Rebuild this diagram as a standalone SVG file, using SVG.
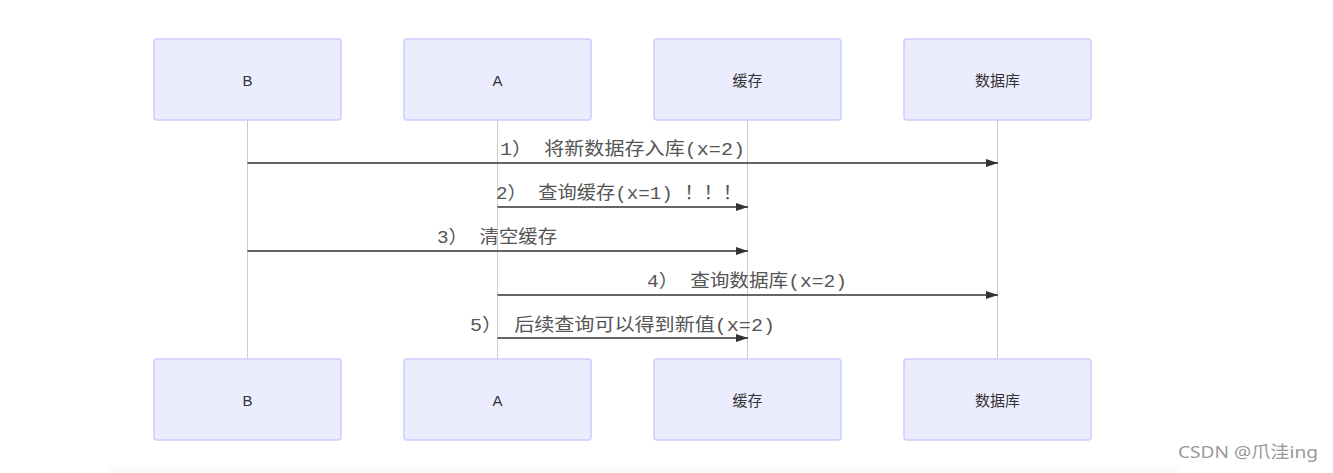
<svg xmlns="http://www.w3.org/2000/svg" width="1333" height="473" viewBox="0 0 1333 473">
<style>
.box{fill:#ECECFF;stroke:#CCCCFF;stroke-width:1.5}
.lt{font-family:"Liberation Sans","Noto Sans CJK SC",sans-serif;font-size:15px;fill:#333;text-anchor:middle;dominant-baseline:central}
.life{stroke:#ccc;stroke-width:1}
.msg{stroke:#333;stroke-width:1.5;fill:none}
.ml{font-family:"Liberation Mono","Noto Sans CJK SC",monospace;font-size:18px;fill:#555}
.wm{font-family:"Noto Sans","Noto Sans CJK SC",sans-serif;font-size:17px;fill:#999}
</style>
<defs>
<marker id="ah" viewBox="0 0 12 8" refX="12" refY="4" markerWidth="12" markerHeight="8" markerUnits="userSpaceOnUse" orient="auto">
<path d="M0,0 L12,4 L0,8 z" fill="#333"/>
</marker>
</defs>
<rect width="1333" height="473" fill="#fff"/>
<rect x="110" y="466" width="1070" height="7" fill="#fbfbfb"/>
<g id="lifelines">
<line class="life" x1="247.5" y1="120" x2="247.5" y2="359"/>
<line class="life" x1="497.5" y1="120" x2="497.5" y2="359"/>
<line class="life" x1="747.5" y1="120" x2="747.5" y2="359"/>
<line class="life" x1="997.5" y1="120" x2="997.5" y2="359"/>
</g>
<g id="B-top"><rect class="box" x="154" y="39" width="187" height="81" rx="3"/><text class="lt" x="247.5" y="80">B</text></g>
<g id="A-top"><rect class="box" x="404" y="39" width="187" height="81" rx="3"/><text class="lt" x="497.5" y="80">A</text></g>
<g id="cache-top"><rect class="box" x="654" y="39" width="187" height="81" rx="3"/><text class="lt" x="747.5" y="80">缓存</text></g>
<g id="db-top"><rect class="box" x="904" y="39" width="187" height="81" rx="3"/><text class="lt" x="997.5" y="80">数据库</text></g>
<g id="B-bottom"><rect class="box" x="154" y="359" width="187" height="81" rx="3"/><text class="lt" x="247.5" y="400">B</text></g>
<g id="A-bottom"><rect class="box" x="404" y="359" width="187" height="81" rx="3"/><text class="lt" x="497.5" y="400">A</text></g>
<g id="cache-bottom"><rect class="box" x="654" y="359" width="187" height="81" rx="3"/><text class="lt" x="747.5" y="400">缓存</text></g>
<g id="db-bottom"><rect class="box" x="904" y="359" width="187" height="81" rx="3"/><text class="lt" x="997.5" y="400">数据库</text></g>
<g id="connectors">
<line class="msg" x1="247.5" y1="163" x2="998" y2="163" marker-end="url(#ah)"/>
<text class="ml" x="500" y="155" textLength="245" lengthAdjust="spacingAndGlyphs">1） 将新数据存入库(x=2)</text>
<line class="msg" x1="497.5" y1="207" x2="748" y2="207" marker-end="url(#ah)"/>
<text class="ml" x="496" y="199" textLength="246" lengthAdjust="spacingAndGlyphs">2） 查询缓存(x=1) ！！！</text>
<line class="msg" x1="247.5" y1="251" x2="748" y2="251" marker-end="url(#ah)"/>
<text class="ml" x="437" y="243" textLength="120" lengthAdjust="spacingAndGlyphs">3） 清空缓存</text>
<line class="msg" x1="497.5" y1="295" x2="998" y2="295" marker-end="url(#ah)"/>
<text class="ml" x="647" y="287" textLength="200" lengthAdjust="spacingAndGlyphs">4） 查询数据库(x=2)</text>
<line class="msg" x1="497.5" y1="338" x2="748" y2="338" marker-end="url(#ah)"/>
<text class="ml" x="470" y="331" textLength="305" lengthAdjust="spacingAndGlyphs">5） 后续查询可以得到新值(x=2)</text>
</g>
<text class="wm" x="1178" y="458" textLength="140" lengthAdjust="spacingAndGlyphs">CSDN @爪洼ing</text>
</svg>
